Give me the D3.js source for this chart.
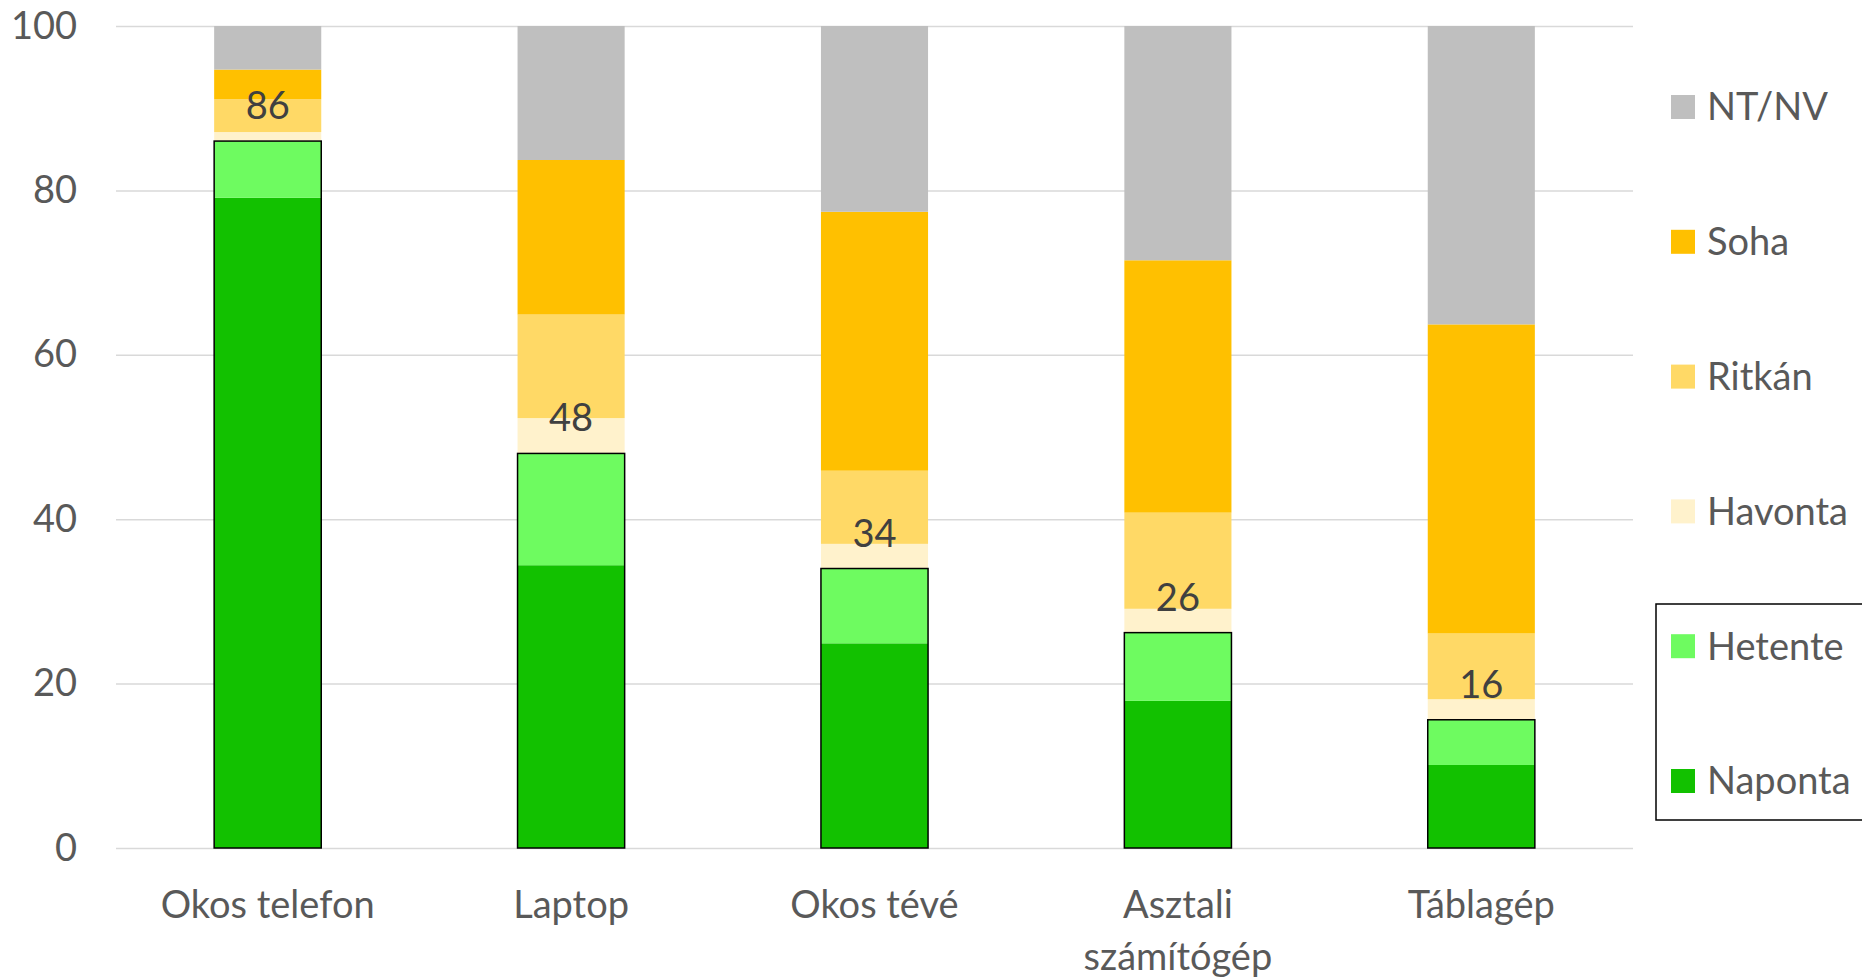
<!DOCTYPE html>
<html>
<head>
<meta charset="utf-8">
<script src="https://cdn.jsdelivr.net/npm/d3@7"></script>
<style>
  body { margin: 0; background: #fff; }
  svg text { font-family: Lato, "Open Sans", sans-serif; }
</style>
</head>
<body>
<div id="chart"></div>
<script>
// values (percent)
const categories = ["Okos telefon", "Laptop", "Okos tévé", "Asztali számítógép", "Táblagép"]
const categoryLines = [["Okos telefon"], ["Laptop"], ["Okos tévé"], ["Asztali", "számítógép"], ["Táblagép"]]
const naponta = [79.1, 34.4, 24.9, 17.9, 10.1]
const hetente = [6.9, 13.6, 9.1, 8.3, 5.5]
const havonta = [1.1, 4.3, 3.0, 2.9, 2.5]
const ritkan = [4.0, 12.6, 8.9, 11.7, 8.0]
const soha = [3.6, 18.8, 31.5, 30.7, 37.6]
const ntnv = [5.3, 16.3, 22.6, 28.5, 36.3]
const totalLabels = [86, 48, 34, 26, 16]
const seriesNames = ["Naponta", "Hetente", "Havonta", "Ritkán", "Soha", "NT/NV"]
const yTicks = [0, 20, 40, 60, 80, 100]

const colors = {
  "Naponta": "#12c100",
  "Hetente": "#6efb60",
  "Havonta": "#fff2cc",
  "Ritkán": "#ffd966",
  "Soha": "#ffc000",
  "NT/NV": "#bfbfbf"
}

const width = 1862, height = 979

let rows = categories.map((c, i) => ({
  cat: c,
  "Naponta": naponta[i],
  "Hetente": hetente[i],
  "Havonta": havonta[i],
  "Ritkán": ritkan[i],
  "Soha": soha[i],
  "NT/NV": ntnv[i]
}))

let svg = d3.select('#chart').append('svg')
.attr('width', width)
.attr('height', height)

let xScale = d3.scaleBand()
.domain(categories)
.range([116, 1633])
.paddingInner(0.647)
.paddingOuter(0.3235)

let yScale = d3.scaleLinear()
.domain([0, 100])
.range([848, 26])

// gridlines
let grid = svg.append('g')
.attr('transform', 'translate(116,0)')
.call(d3.axisRight(yScale).tickValues(yTicks).tickSize(1517).tickFormat(''))
grid.select('.domain').remove()
grid.selectAll('line').attr('stroke', '#d9d9d9').attr('stroke-width', 1.5)

// y labels
let yaxis = svg.append('g')
.attr('transform', 'translate(116,0)')
.call(d3.axisLeft(yScale).tickValues(yTicks).tickSize(0).tickPadding(39))
yaxis.select('.domain').remove()
yaxis.selectAll('text')
.attr('fill', '#595959')
.style('font-size', '38px')

// stacked bars
let stacked = d3.stack().keys(seriesNames)(rows)

let bars = svg.append('g')
bars.selectAll('g')
.data(stacked)
.enter()
.append('g')
.attr('fill', d => colors[d.key])
.selectAll('rect')
.data(d => d)
.enter()
.append('rect')
.attr('x', d => xScale(d.data.cat))
.attr('width', xScale.bandwidth())
.attr('y', d => yScale(d[1]))
.attr('height', d => yScale(d[0]) - yScale(d[1]))

// outline round the green part
svg.append('g')
.selectAll('rect')
.data(rows)
.enter()
.append('rect')
.attr('x', d => xScale(d.cat))
.attr('width', xScale.bandwidth())
.attr('y', d => yScale(d["Naponta"] + d["Hetente"]))
.attr('height', d => yScale(0) - yScale(d["Naponta"] + d["Hetente"]))
.attr('fill', 'none')
.attr('stroke', '#000')
.attr('stroke-width', 1.5)

// total labels, sitting just above the green part
svg.append('g')
.selectAll('text')
.data(rows)
.enter()
.append('text')
.attr('x', d => xScale(d.cat) + xScale.bandwidth() / 2)
.attr('y', d => yScale(d["Naponta"] + d["Hetente"]) - 22)
.attr('text-anchor', 'middle')
.attr('fill', '#404040')
.style('font-size', '38px')
.text((d, i) => totalLabels[i])

// category labels
let xlab = svg.append('g')
.selectAll('text')
.data(categories)
.enter()
.append('text')
.attr('x', d => xScale(d) + xScale.bandwidth() / 2)
.attr('y', 918)
.attr('text-anchor', 'middle')
.attr('fill', '#595959')
.style('font-size', '38px')

xlab.selectAll('tspan')
.data((d, i) => categoryLines[i])
.enter()
.append('tspan')
.attr('x', function() { return this.parentNode.getAttribute('x') })
.attr('dy', (d, i) => i == 0 ? 0 : 52)
.text(d => d)

// legend
let legendOrder = seriesNames.slice().reverse()
let legendY = d3.scalePoint()
.domain(legendOrder)
.range([107, 781])

svg.append('rect')
.attr('x', 1656)
.attr('y', 604)
.attr('width', 230)
.attr('height', 216)
.attr('fill', 'none')
.attr('stroke', '#000')
.attr('stroke-width', 1.5)

let legend = svg.append('g')
.selectAll('g')
.data(legendOrder)
.enter()
.append('g')
.attr('transform', d => 'translate(1671,' + legendY(d) + ')')

legend.append('rect')
.attr('x', 0)
.attr('y', -12)
.attr('width', 24)
.attr('height', 24)
.attr('fill', d => colors[d])

legend.append('text')
.attr('x', 36)
.attr('y', 0)
.attr('dy', '0.35em')
.attr('fill', '#595959')
.style('font-size', '38px')
.text(d => d)
</script>
</body>
</html>
